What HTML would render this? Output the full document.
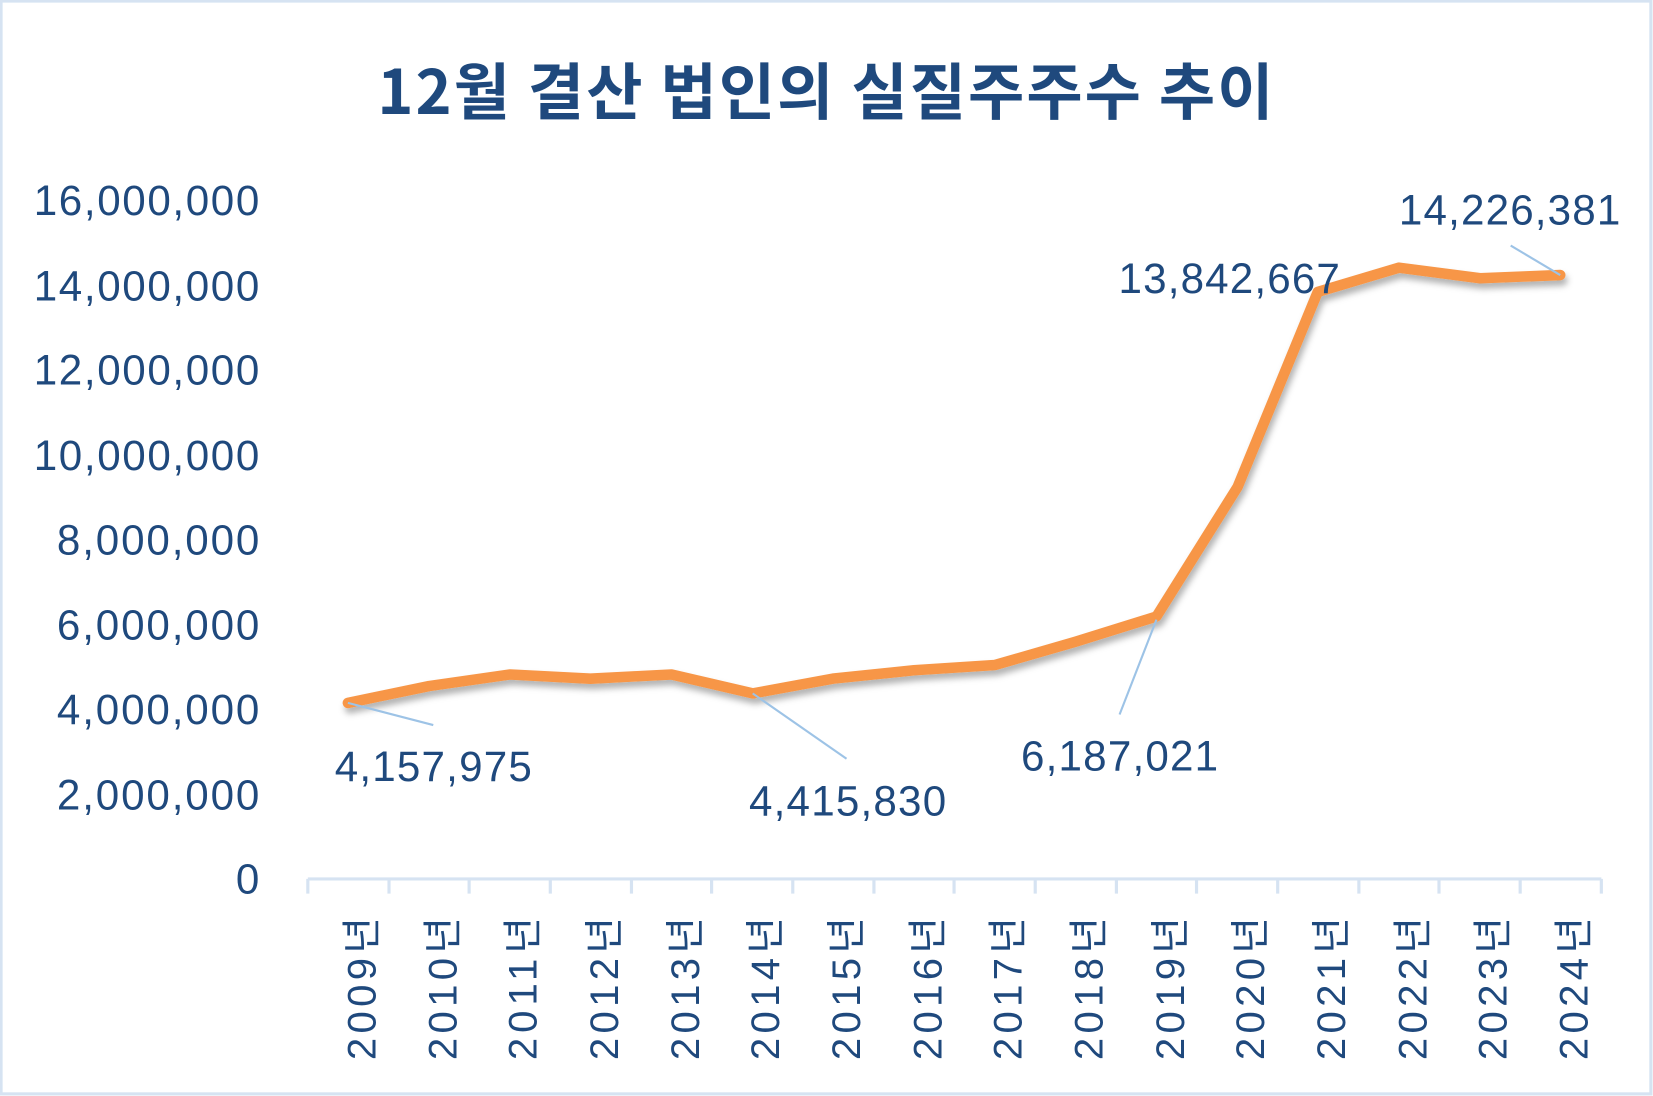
<!DOCTYPE html>
<html><head><meta charset="utf-8"><style>
html,body{margin:0;padding:0;background:#fff;}
svg{display:block;}
text{font-family:"Liberation Sans","Noto Sans CJK KR",sans-serif;fill:#1f497d;}
</style></head><body>
<svg width="1653" height="1096" viewBox="0 0 1568 1040" preserveAspectRatio="none" xmlns="http://www.w3.org/2000/svg">
<defs><filter id="sh" x="-10%" y="-10%" width="120%" height="130%"><feDropShadow dx="2" dy="5" stdDeviation="3" flood-color="#000" flood-opacity="0.3"/></filter></defs>
<rect x="1" y="1" width="1565" height="1037" fill="#fff" stroke="#d6e3f2" stroke-width="3"/>
<text x="358" y="108" font-size="58" font-weight="bold" textLength="850" lengthAdjust="spacing" style="font-family:'Noto Sans CJK KR',sans-serif">12월 결산 법인의 실질주주수 추이</text>
<g font-size="40" text-anchor="end">
<text x="246" y="848">0</text>
<text x="246" y="768" textLength="192">2,000,000</text>
<text x="246" y="687" textLength="192">4,000,000</text>
<text x="246" y="607" textLength="192">6,000,000</text>
<text x="246" y="526" textLength="192">8,000,000</text>
<text x="246" y="446" textLength="214">10,000,000</text>
<text x="246" y="365" textLength="214">12,000,000</text>
<text x="246" y="285" textLength="214">14,000,000</text>
<text x="246" y="204" textLength="214">16,000,000</text>
</g>
<g stroke="#d6e3f2" stroke-width="3" fill="none">
<line x1="292" y1="834" x2="1519" y2="834"/>
<path d="M292 834v14M369 834v14M445 834v14M522 834v14M599 834v14M675 834v14M752 834v14M829 834v14M905 834v14M982 834v14M1059 834v14M1135 834v14M1212 834v14M1289 834v14M1365 834v14M1442 834v14M1519 834v14"/>
</g>
<g font-size="38">
<text transform="translate(356,1006) rotate(-90)" textLength="136">2009년</text>
<text transform="translate(433,1006) rotate(-90)" textLength="136">2010년</text>
<text transform="translate(509,1006) rotate(-90)" textLength="136">2011년</text>
<text transform="translate(586,1006) rotate(-90)" textLength="136">2012년</text>
<text transform="translate(663,1006) rotate(-90)" textLength="136">2013년</text>
<text transform="translate(739,1006) rotate(-90)" textLength="136">2014년</text>
<text transform="translate(816,1006) rotate(-90)" textLength="136">2015년</text>
<text transform="translate(893,1006) rotate(-90)" textLength="136">2016년</text>
<text transform="translate(969,1006) rotate(-90)" textLength="136">2017년</text>
<text transform="translate(1046,1006) rotate(-90)" textLength="136">2018년</text>
<text transform="translate(1123,1006) rotate(-90)" textLength="136">2019년</text>
<text transform="translate(1199,1006) rotate(-90)" textLength="136">2020년</text>
<text transform="translate(1276,1006) rotate(-90)" textLength="136">2021년</text>
<text transform="translate(1353,1006) rotate(-90)" textLength="136">2022년</text>
<text transform="translate(1429,1006) rotate(-90)" textLength="136">2023년</text>
<text transform="translate(1506,1006) rotate(-90)" textLength="136">2024년</text>
</g>
<polyline filter="url(#sh)" fill="none" stroke="#f79646" stroke-width="10" stroke-linejoin="round" stroke-linecap="round"
points="330,667 407,651 484,640 560,644 637,640 714,658 790,644 867,636 944,631 1020,609 1097,585 1174,462 1250,277 1327,254 1404,264 1480,261"/>
<g stroke="#9dc3e6" stroke-width="2">
<line x1="330" y1="667" x2="411" y2="688"/>
<line x1="714" y1="658" x2="803" y2="720"/>
<line x1="1097" y1="588" x2="1062" y2="678"/>
<line x1="1480" y1="261" x2="1433" y2="233"/>
</g>
<g font-size="40" text-anchor="middle">
<text x="411" y="741" textLength="187">4,157,975</text>
<text x="804" y="774" textLength="187">4,415,830</text>
<text x="1062" y="731" textLength="187">6,187,021</text>
<text x="1166" y="278" textLength="210">13,842,667</text>
<text x="1432" y="213" textLength="210">14,226,381</text>
</g>
</svg>
</body></html>
